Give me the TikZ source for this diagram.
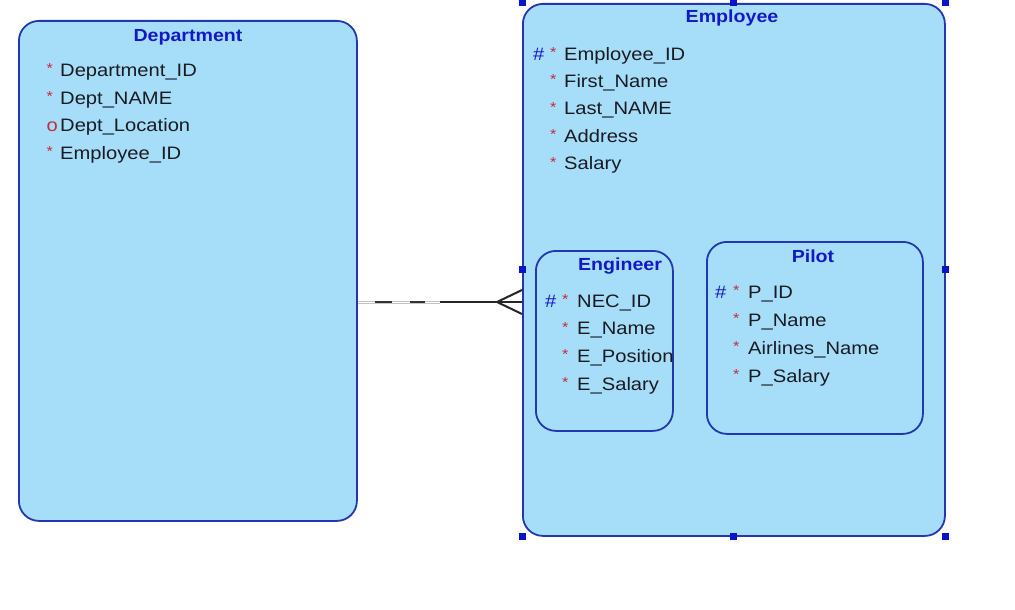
\documentclass[tikz,border=0pt]{standalone}
\usepackage{fontspec}
\setmainfont{Liberation Sans}[FakeStretch=1.12]
\usetikzlibrary{calc}

\definecolor{entfill}{RGB}{166,222,250}
\definecolor{entline}{RGB}{35,55,175}
\definecolor{titleblue}{RGB}{20,25,200}
\definecolor{attrtext}{RGB}{25,27,35}
\definecolor{mandred}{RGB}{195,45,60}
\definecolor{handleblue}{RGB}{10,20,200}

\tikzset{
  entity/.style={draw=entline, fill=entfill, line width=1.8pt, rounded corners=20pt,
    anchor=north west, inner sep=0pt},
  title/.style={anchor=base, inner sep=0pt, text=titleblue,
    font=\fontsize{17.5}{18}\selectfont\bfseries},
  attr/.style={anchor=base west, inner sep=0pt, text=attrtext,
    font=\fontsize{18}{18}\selectfont},
  flag/.style={anchor=base west, inner sep=0pt, text=mandred,
    font=\fontsize{18}{18}\selectfont},
  star/.style={flag, font=\fontsize{14.5}{14}\selectfont, yshift=2.5pt},
  keyflag/.style={flag, text=titleblue},
  handle/.style={fill=handleblue, minimum size=7pt, inner sep=0pt}
}

\begin{document}
\begin{tikzpicture}[x=1pt, y=-1pt]
\useasboundingbox (0,0) rectangle (1015,610);

% entities
\node[entity, minimum width=338pt, minimum height=500pt] (dept) at (18,20) {};
\node[entity, minimum width=422pt, minimum height=532pt] (emp) at (522,3) {};
\node[entity, minimum width=137pt, minimum height=180pt] (eng) at (535,250) {};
\node[entity, minimum width=216pt, minimum height=192pt] (pilot) at (706,241) {};

% Department
\node[title] (deptT) at (188,42) {Department};
\foreach \s/\f/\t [count=\i] in {star/*/Department\_ID, star/*/Dept\_NAME, flag/o/Dept\_Location, star/*/Employee\_ID}{
  \node[\s] (dept-f\i) at (46.5,{76.5+27.5*(\i-1)}) {\f};
  \node[attr] (dept-a\i) at (60,{76.5+27.5*(\i-1)}) {\t};
}

% Employee
\node[title] (empT) at (732,23) {Employee};
\node[keyflag] (emp-k1) at (533,60) {\#};
\foreach \t [count=\i] in {Employee\_ID, First\_Name, Last\_NAME, Address, Salary}{
  \node[star] (emp-f\i) at (550,{60+27.4*(\i-1)}) {*};
  \node[attr] (emp-a\i) at (564,{60+27.4*(\i-1)}) {\t};
}

% Engineer
\node[title] (engT) at (620,270) {Engineer};
\node[keyflag] (eng-k1) at (545,307) {\#};
\begin{scope}
\clip (eng.north west) rectangle ($(eng.south east)+(-1,0)$);
\foreach \t [count=\i] in {NEC\_ID, E\_Name, E\_Position, E\_Salary}{
  \node[star] (eng-f\i) at (562,{307+27.7*(\i-1)}) {*};
  \node[attr] (eng-a\i) at (577,{307+27.7*(\i-1)}) {\t};
}
\end{scope}

% Pilot
\node[title] (pilotT) at (813,262) {Pilot};
\node[keyflag] (pilot-k1) at (715,298) {\#};
\foreach \t [count=\i] in {P\_ID, P\_Name, Airlines\_Name, P\_Salary}{
  \node[star] (pilot-f\i) at (733,{298+28*(\i-1)}) {*};
  \node[attr] (pilot-a\i) at (748,{298+28*(\i-1)}) {\t};
}

% relationship
\coordinate (opt) at (440,302);
\coordinate (crow) at (497,302);
\draw[draw=gray!45, double=white, double distance=1pt, line width=1pt] (opt -| dept.east) -- (opt);
\draw[black!80, line width=2pt, dash pattern=on 17pt off 18pt]
  ($(opt -| dept.east)+(17,0)$) -- ($(opt)+(-15,0)$);
\draw[black!85, line width=2pt] (opt) -- (opt -| emp.west);
\draw[black!85, line width=2pt] ($(opt -| emp.west)+(0,-12)$) -- (crow) -- ($(opt -| emp.west)+(0,12)$);

% selection handles
\foreach \a in {north west, north, north east, west, east, south west, south, south east}
  \node[handle] at (emp.\a) {};
\end{tikzpicture}
\end{document}
